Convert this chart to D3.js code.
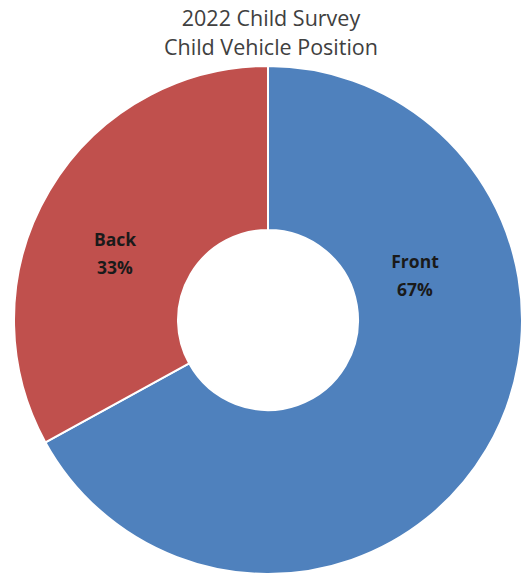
<!DOCTYPE html>
<html>
<head>
<meta charset="utf-8">
<script src="https://cdn.jsdelivr.net/npm/d3@7"></script>
<style>
  html, body { margin: 0; padding: 0; background: #fff; }
  svg { display: block; }
</style>
</head>
<body>
<div id="chart"></div>
<script>
// Survey data
const categories = ["Front", "Back"];
const shares = [67, 33];
const titleLines = ["2022 Child Survey", "Child Vehicle Position"];

const width = 524, height = 573;
const cx = 268, cy = 320;
const outerR = 254, innerR = 90;
const colors = { Front: "#4F81BD", Back: "#C0504D" };
// label anchor offsets (from the donut centre) for each slice
const labelPos = { Front: [147, -52], Back: [-153, -74] };

const svg = d3.select("#chart").append("svg")
  .attr("width", width).attr("height", height);

svg.selectAll("text.title").data(titleLines).join("text")
  .attr("class", "title")
  .attr("x", 271)
  .attr("y", (d, i) => 26 + i * 29)
  .attr("text-anchor", "middle")
  .attr("font-family", "'Open Sans', sans-serif")
  .attr("font-size", 21.5)
  .attr("fill", "#404040")
  .text(d => d);

const data = categories.map((c, i) => ({ name: c, value: shares[i] }));
const pie = d3.pie().value(d => d.value).sort(null);
const arc = d3.arc().innerRadius(innerR).outerRadius(outerR);

const g = svg.append("g").attr("transform", `translate(${cx},${cy})`);

const arcs = pie(data);
g.selectAll("path").data(arcs).join("path")
  .attr("d", arc)
  .attr("fill", d => colors[d.data.name])
  .attr("stroke", "#fff")
  .attr("stroke-width", 2);

const labels = g.selectAll("text.lbl").data(arcs).join("text")
  .attr("class", "lbl")
  .attr("text-anchor", "middle")
  .attr("font-family", "'Open Sans', sans-serif")
  .attr("font-weight", "bold")
  .attr("font-size", 17.5)
  .attr("fill", "#1a1a1a")
  .attr("transform", d => `translate(${labelPos[d.data.name][0]},${labelPos[d.data.name][1]})`);
labels.append("tspan").attr("x", 0).attr("dy", 0).text(d => d.data.name);
labels.append("tspan").attr("x", 0).attr("dy", 28).text(d => d.data.value + "%");
</script>
</body>
</html>
